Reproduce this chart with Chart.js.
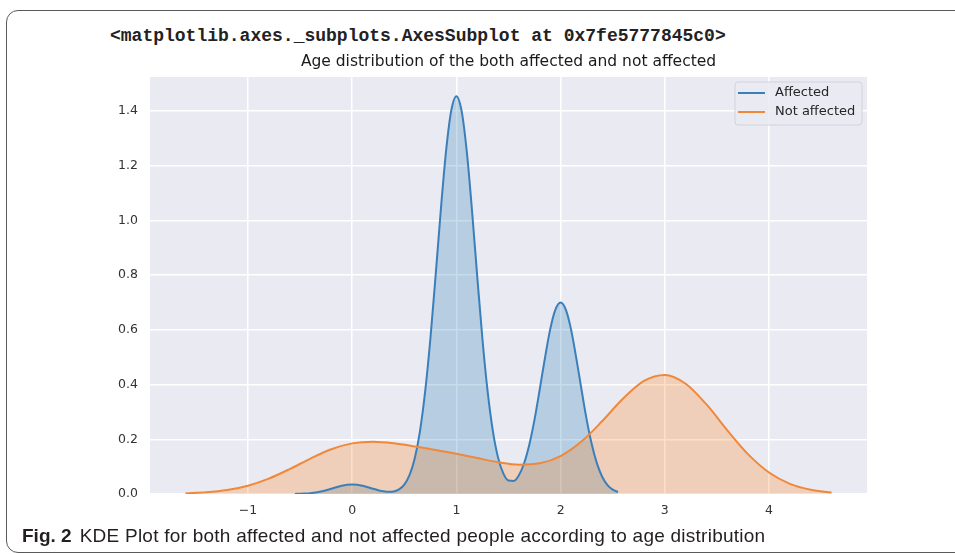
<!DOCTYPE html>
<html>
<head>
<meta charset="utf-8">
<script src="https://cdn.jsdelivr.net/npm/chart.js@4.4.1/dist/chart.umd.min.js"></script>
<style>
  html, body { margin: 0; padding: 0; background: #fff; }
  body { width: 955px; height: 554px; position: relative; overflow: hidden; }
  #frame { position: absolute; left: 6px; top: 10px; width: 1000px; height: 541px; border: 1.3px solid #5a5a5a; border-radius: 12px; }
  #repr { position: absolute; left: 110px; top: 27px; font: bold 18px "Liberation Mono", monospace; line-height: 1; color: #222; white-space: nowrap; }
  #chart { position: absolute; left: 0; top: 0; }
  #caption { position: absolute; left: 22px; top: 526px; font: 19px "Liberation Sans", sans-serif; letter-spacing: 0.25px; line-height: 1.1; color: #231f20; white-space: nowrap; }
  #caption b { margin-right: 8px; letter-spacing: 0; }
</style>
</head>
<body>
<div id="frame"></div>
<div id="repr">&lt;matplotlib.axes._subplots.AxesSubplot at 0x7fe5777845c0&gt;</div>
<canvas id="chart" width="955" height="554"></canvas>
<div id="caption"><b>Fig. 2</b>KDE Plot for both affected and not affected people according to age distribution</div>
<script>
const chartTitle = "Age distribution of the both affected and not affected";
const seriesNames = ["Affected", "Not affected"];
const xTicks = [-1, 0, 1, 2, 3, 4];
const yTicks = [0, 0.2, 0.4, 0.6, 0.8, 1.0, 1.2, 1.4];

// Affected curve
const affectedX = [-0.55, -0.5, -0.45, -0.4, -0.35, -0.3, -0.25, -0.2, -0.15, -0.1, -0.05, 0,
    0.05, 0.1, 0.15, 0.2, 0.25, 0.3, 0.35, 0.4, 0.45, 0.5, 0.55, 0.6, 0.65, 0.7, 0.75, 0.8, 0.85, 0.9, 0.95, 1,
    1.05, 1.1, 1.15, 1.2, 1.25, 1.3, 1.35, 1.4, 1.45, 1.5, 1.55, 1.6, 1.65, 1.7, 1.75, 1.8, 1.85, 1.9, 1.95, 2,
    2.05, 2.1, 2.15, 2.2, 2.25, 2.3, 2.35, 2.4, 2.45, 2.5, 2.55];
const affectedY = [0.0004, 0.0008, 0.0016, 0.0031, 0.0055, 0.0090, 0.0136, 0.0191, 0.0249, 0.0301, 0.0337, 0.0350,
    0.0337, 0.0301, 0.0249, 0.0191, 0.0139, 0.0099, 0.0080, 0.0094, 0.0167, 0.0341, 0.0686, 0.1298, 0.2284, 0.374, 0.566, 0.796, 1.036, 1.251, 1.401, 1.455,
    1.401, 1.251, 1.036, 0.796, 0.566, 0.374, 0.230, 0.133, 0.0755, 0.0493, 0.0479, 0.0687, 0.1125, 0.181, 0.273, 0.383, 0.498, 0.602, 0.674, 0.700,
    0.674, 0.602, 0.498, 0.383, 0.272, 0.180, 0.110, 0.0624, 0.0328, 0.0160, 0.0073];

// Not affected curve
const notAffectedX = [-1.6, -1.4, -1.2, -1.0, -0.8, -0.6, -0.4, -0.2, 0, 0.2, 0.4, 0.6, 0.8, 1.0, 1.2, 1.4,
    1.6, 1.8, 2.0, 2.2, 2.4, 2.6, 2.8, 3.0, 3.2, 3.4, 3.6, 3.8, 4.0, 4.2, 4.4, 4.6];
const notAffectedY = [0.0022, 0.0060, 0.0144, 0.0304, 0.0562, 0.0910, 0.1296, 0.1636, 0.1851, 0.1911, 0.1854, 0.1741, 0.1612, 0.1471, 0.1315, 0.1164,
    0.1074, 0.1122, 0.1388, 0.1916, 0.2668, 0.3492, 0.4138, 0.4354, 0.4033, 0.3275, 0.2329, 0.1449, 0.0786, 0.0373, 0.0155, 0.0056];

const toPoints = (xs, ys) => xs.map((x, i) => ({x: x, y: ys[i]}));
const fmtX = v => v < 0 ? "\u2212" + Math.abs(v) : String(v);

const plotBg = {
    id: 'plotBg',
    beforeDraw(chart) {
        const {ctx, chartArea: a} = chart;
        ctx.save();
        ctx.fillStyle = '#eaeaf2';
        ctx.fillRect(a.left, a.top, a.right - a.left, a.bottom - a.top);
        ctx.restore();
    }
};

const legendBox = {
    id: 'legendBox',
    afterDraw(chart) {
        const {ctx, chartArea: a} = chart;
        const x = a.right - 132, y = a.top + 5, w = 127, h = 43;
        ctx.save();
        ctx.beginPath();
        ctx.roundRect(x, y, w, h, 3);
        ctx.fillStyle = 'rgba(234,234,242,0.85)';
        ctx.fill();
        ctx.strokeStyle = '#d2d2da';
        ctx.lineWidth = 1;
        ctx.stroke();
        ctx.font = '13px "DejaVu Sans"';
        ctx.textBaseline = 'middle';
        chart.data.datasets.forEach((ds, i) => {
            const ry = y + 11 + i * 19;
            ctx.strokeStyle = ds.borderColor;
            ctx.lineWidth = 2;
            ctx.beginPath();
            ctx.moveTo(x + 3, ry);
            ctx.lineTo(x + 30, ry);
            ctx.stroke();
            ctx.fillStyle = '#262626';
            ctx.fillText(ds.label, x + 40, ry);
        });
        ctx.restore();
    }
};

new Chart(document.getElementById('chart'), {
    type: 'line',
    data: {
        datasets: [
            {
                label: seriesNames[0],
                data: toPoints(affectedX, affectedY),
                borderColor: '#3a7fba',
                backgroundColor: 'rgba(31,119,180,0.25)',
                borderWidth: 2,
                pointRadius: 0,
                fill: 'origin',
                cubicInterpolationMode: 'monotone',
                order: 1
            },
            {
                label: seriesNames[1],
                data: toPoints(notAffectedX, notAffectedY),
                borderColor: '#f0883a',
                backgroundColor: 'rgba(255,127,14,0.25)',
                borderWidth: 2,
                pointRadius: 0,
                fill: 'origin',
                cubicInterpolationMode: 'monotone',
                order: 0
            }
        ]
    },
    options: {
        responsive: false,
        animation: false,
        devicePixelRatio: 1,
        layout: { padding: { left: 90, right: 88, top: 0, bottom: 30 } },
        plugins: {
            legend: { display: false },
            tooltip: { enabled: false },
            filler: { drawTime: 'beforeDatasetsDraw' },
            title: {
                display: true,
                text: chartTitle,
                fullSize: false,
                color: '#1a1a1a',
                font: { family: 'DejaVu Sans', size: 15.5, weight: 'normal', lineHeight: 1.2 },
                padding: { top: 53, bottom: 5.4 }
            }
        },
        scales: {
            x: {
                type: 'linear',
                min: -1.94,
                max: 4.94,
                afterBuildTicks: s => { s.ticks = xTicks.map(v => ({value: v})); },
                afterFit: s => { s.height = 30; },
                grid: { color: '#ffffff', lineWidth: 1.5, drawTicks: false },
                border: { display: false },
                ticks: { color: '#333333', padding: 9, maxRotation: 0, autoSkip: false,
                    font: { family: 'DejaVu Sans', size: 12.5 }, callback: v => fmtX(v) }
            },
            y: {
                min: 0,
                max: 1.525,
                afterBuildTicks: s => { s.ticks = yTicks.map(v => ({value: v})); },
                afterFit: s => { s.width = 60; },
                grid: { color: '#ffffff', lineWidth: 1.5, drawTicks: false },
                border: { display: false },
                ticks: { color: '#333333', padding: 12, autoSkip: false,
                    font: { family: 'DejaVu Sans', size: 12.5 }, callback: v => v.toFixed(1) }
            }
        }
    },
    plugins: [plotBg, legendBox]
});
</script>
</body>
</html>
